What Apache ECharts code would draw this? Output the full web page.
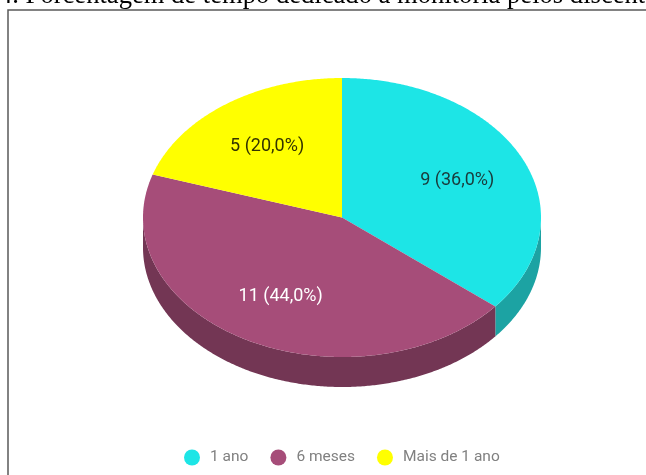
<!DOCTYPE html>
<html>
<head>
<meta charset="utf-8">
<style>
  html, body { margin: 0; padding: 0; background: #fff; overflow: hidden; }
  #chart { width: 646px; height: 475px; }
</style>
</head>
<body>
<div id="chart"></div>
<script src="https://cdn.jsdelivr.net/npm/echarts@6/dist/echarts.min.js"></script>
<script>
var categories = ["1 ano", "6 meses", "Mais de 1 ano"];
var counts = [9, 11, 5];
var percentLabels = ["36,0%", "44,0%", "20,0%"];
var topColors = ["#1de5e6", "#a64d79", "#ffff00"];
var wallColors = ["#1ca3a3", "#733654", "#b5b500"];
var labelColors = ["#1a3a3a", "#fff", "#333300"];

// geometry of the tilted pie
var cx = 342, cy = 217.5, rx = 199, ry = 139.5, depth = 30;
var total = counts.reduce(function (a, b) { return a + b; }, 0);

function rim(angle, dy) {
  // angle runs clockwise from 12 o'clock
  return [cx + rx * Math.sin(angle), cy - ry * Math.cos(angle) + dy];
}

function renderSlice(params, api) {
  var from = api.value(1) / total * Math.PI * 2;
  var to = (api.value(1) + api.value(0)) / total * Math.PI * 2;
  var i = params.seriesIndex;
  var step = Math.PI / 360;
  var top = [[cx, cy]];
  var a;
  for (a = from; a < to; a += step) top.push(rim(a, 0));
  top.push(rim(to, 0));

  var children = [];

  // side wall only shows on the front half of the rim
  var wallFrom = Math.max(from, Math.PI / 2);
  var wallTo = Math.min(to, Math.PI * 1.5);
  if (wallFrom < wallTo) {
    var upper = [], lower = [];
    for (a = wallFrom; a < wallTo; a += step) {
      upper.push(rim(a, 0));
      lower.unshift(rim(a, depth));
    }
    upper.push(rim(wallTo, 0));
    lower.unshift(rim(wallTo, depth));
    children.push({
      type: "polygon",
      shape: { points: upper.concat(lower) },
      style: { fill: wallColors[i] }
    });
  }

  children.push({
    type: "polygon",
    shape: { points: top },
    style: { fill: topColors[i] }
  });

  var mid = (from + to) / 2;
  children.push({
    type: "text",
    x: cx + rx * 0.64 * Math.sin(mid),
    y: cy - ry * 0.64 * Math.cos(mid) + 1,
    style: {
      text: api.value(0) + " (" + percentLabels[i] + ")",
      fill: labelColors[i],
      font: "18px Roboto",
      align: "center",
      verticalAlign: "middle"
    }
  });

  return { type: "group", children: children };
}

var running = 0;
var series = categories.map(function (name, i) {
  var row = [counts[i], running];
  running += counts[i];
  return {
    type: "custom",
    name: name,
    coordinateSystem: "none",
    itemStyle: { color: topColors[i] },
    renderItem: renderSlice,
    data: [row],
    silent: true
  };
});

var chart = echarts.init(document.getElementById("chart"));
chart.setOption({
  animation: false,
  legend: {
    left: 184,
    top: 449.5,
    icon: "circle",
    itemWidth: 16,
    itemHeight: 16,
    itemGap: 22,
    padding: 0,
    textStyle: {
      color: "#808080",
      fontFamily: "Roboto",
      fontSize: 15.5,
      padding: [0, 0, 0, 5]
    },
    data: categories
  },
  graphic: [
    {
      type: "rect",
      shape: { x: 8, y: 10, width: 660, height: 480 },
      style: { fill: "none", stroke: "#5a5a5a", lineWidth: 1.5 },
      silent: true
    },
    {
      type: "text",
      x: -1,
      y: -17,
      style: {
        text: "4. Porcentagem de tempo dedicado à monitoria pelos discentes",
        fill: "#000",
        font: "26.6px 'Liberation Serif'"
      },
      silent: true
    }
  ],
  series: series
});
</script>
</body>
</html>
